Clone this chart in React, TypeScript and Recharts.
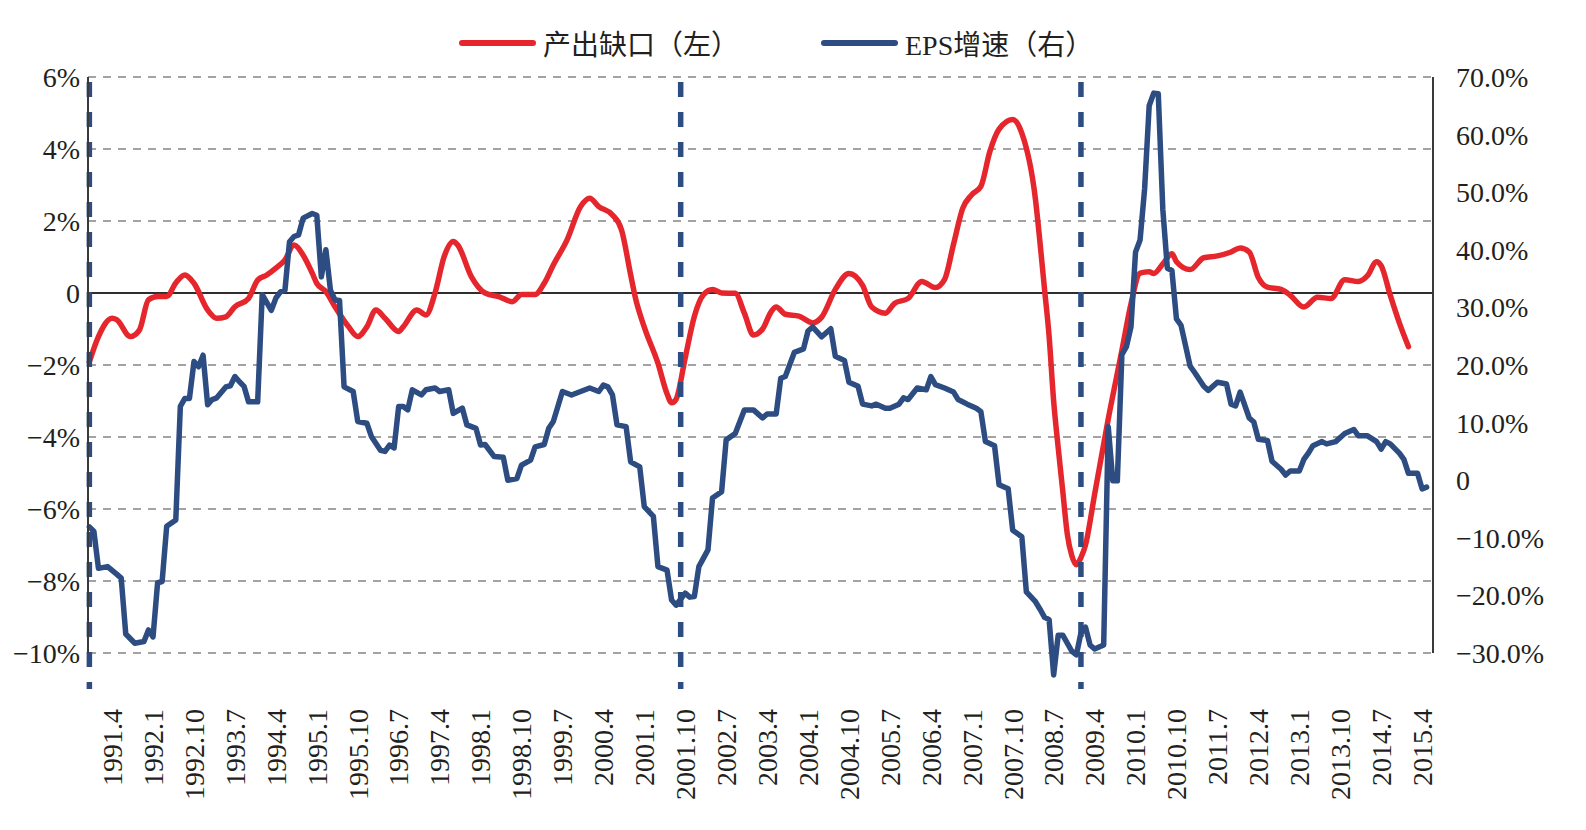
import { LineChart, Line, XAxis, YAxis, CartesianGrid, ReferenceLine } from 'recharts'

// 产出缺口 (left axis, %), monthly readings as [yyyy.m, value]
const OUTPUT_GAP: [string, number][] = [
  ['1990.11', -1.91], ['1991.1', -1.21], ['1991.4', -0.7], ['1991.5', -0.74], ['1991.8', -1.21],
  ['1991.10', -1.03], ['1991.12', -0.19], ['1992.2', -0.1], ['1992.4', -0.1], ['1992.6', 0.28],
  ['1992.8', 0.5], ['1992.10', 0.27], ['1993.1', -0.47], ['1993.3', -0.7], ['1993.5', -0.66],
  ['1993.7', -0.38], ['1993.10', -0.15], ['1993.12', 0.36], ['1994.2', 0.5], ['1994.4', 0.69],
  ['1994.6', 0.92], ['1994.8', 1.33], ['1994.10', 1.05], ['1994.12', 0.55], ['1995.1', 0.27],
  ['1995.3', 0.04], ['1995.5', -0.38], ['1995.8', -0.94], ['1995.10', -1.21], ['1995.12', -0.94],
  ['1996.2', -0.47], ['1996.4', -0.7], ['1996.7', -1.07], ['1996.8', -0.94], ['1996.11', -0.47],
  ['1997.1', -0.61], ['1997.3', 0], ['1997.5', 1.01], ['1997.7', 1.43], ['1997.8', 1.33],
  ['1997.11', 0.45], ['1998.2', 0], ['1998.5', -0.1], ['1998.8', -0.24], ['1998.10', -0.04],
  ['1999.1', -0.04], ['1999.3', 0.27], ['1999.5', 0.78], ['1999.8', 1.47], ['1999.11', 2.4],
  ['2000.1', 2.63], ['2000.3', 2.4], ['2000.6', 2.17], ['2000.8', 1.75], ['2000.10', 0.51],
  ['2000.11', -0.11], ['2001.1', -0.95], ['2001.4', -1.95], ['2001.6', -2.8], ['2001.7', -3.05],
  ['2001.8', -2.95], ['2001.10', -1.8], ['2001.12', -0.65], ['2002.2', -0.05], ['2002.4', 0.1],
  ['2002.6', 0], ['2002.9', -0.01], ['2002.11', -0.56], ['2003.1', -1.17], ['2003.3', -1.0],
  ['2003.5', -0.5], ['2003.6', -0.39], ['2003.8', -0.59], ['2003.11', -0.64], ['2004.2', -0.83],
  ['2004.4', -0.67], ['2004.7', 0.1], ['2004.10', 0.54], ['2005.1', 0.21], ['2005.3', -0.39],
  ['2005.6', -0.56], ['2005.8', -0.29], ['2005.11', -0.15], ['2006.2', 0.32], ['2006.5', 0.15],
  ['2006.7', 0.37], ['2006.9', 1.36], ['2006.11', 2.35], ['2007.1', 2.73], ['2007.3', 2.96],
  ['2007.5', 3.94], ['2007.7', 4.55], ['2007.10', 4.82], ['2007.12', 4.44], ['2008.3', 2.6],
  ['2008.4', 1.4], ['2008.5', 0.1], ['2008.6', -1.2], ['2008.7', -3.0], ['2008.8', -4.3],
  ['2008.9', -5.5], ['2008.10', -6.7], ['2008.11', -7.3], ['2008.12', -7.55], ['2009.1', -7.35],
  ['2009.2', -7.0], ['2009.4', -5.6], ['2009.7', -3.5], ['2009.10', -1.6], ['2009.12', -0.3],
  ['2010.2', 0.55], ['2010.4', 0.59], ['2010.5', 0.54], ['2010.7', 0.81], ['2010.9', 1.09],
  ['2010.10', 0.87], ['2011.1', 0.65], ['2011.4', 0.98], ['2011.7', 1.03], ['2011.10', 1.14],
  ['2011.12', 1.25], ['2012.2', 1.14], ['2012.4', 0.43], ['2012.6', 0.16], ['2012.9', 0.1],
  ['2012.11', -0.06], ['2013.2', -0.39], ['2013.5', -0.12], ['2013.8', -0.15], ['2013.11', 0.37],
  ['2014.2', 0.32], ['2014.4', 0.48], ['2014.6', 0.87], ['2014.7', 0.76], ['2014.9', -0.06],
  ['2014.11', -0.83], ['2015.1', -1.49],
]

// EPS增速 (right axis, %), monthly readings as [yyyy.m, value]
const EPS_GROWTH: [string, number][] = [
  ['1990.11', -8.1], ['1990.12', -8.9], ['1991.1', -15.3], ['1991.3', -15.0], ['1991.5', -16.3],
  ['1991.6', -17.0], ['1991.7', -26.7], ['1991.9', -28.3], ['1991.11', -28.0], ['1991.12', -26.0],
  ['1992.1', -27.2], ['1992.2', -17.8], ['1992.3', -17.6], ['1992.4', -8.0], ['1992.6', -6.9],
  ['1992.7', 12.8], ['1992.8', 14.2], ['1992.9', 14.2], ['1992.10', 20.6], ['1992.11', 19.7],
  ['1992.12', 21.7], ['1993.1', 13.1], ['1993.2', 14.0], ['1993.3', 14.3], ['1993.5', 16.2],
  ['1993.6', 16.4], ['1993.7', 18.0], ['1993.8', 17.1], ['1993.9', 16.3], ['1993.10', 13.6],
  ['1993.12', 13.6], ['1994.1', 32.2], ['1994.3', 29.5], ['1994.4', 31.6], ['1994.5', 32.7],
  ['1994.6', 33.0], ['1994.7', 41.4], ['1994.8', 42.3], ['1994.9', 42.6], ['1994.10', 45.5],
  ['1994.12', 46.3], ['1995.1', 46.0], ['1995.2', 35.3], ['1995.3', 40.0], ['1995.4', 33.0],
  ['1995.5', 31.3], ['1995.6', 31.2], ['1995.7', 16.2], ['1995.9', 15.4], ['1995.10', 10.2],
  ['1995.12', 9.9], ['1996.1', 7.6], ['1996.3', 5.2], ['1996.4', 5.0], ['1996.5', 6.1],
  ['1996.6', 5.6], ['1996.7', 12.8], ['1996.8', 12.8], ['1996.9', 12.2], ['1996.10', 15.7],
  ['1996.12', 14.8], ['1997.1', 15.7], ['1997.3', 16.0], ['1997.4', 15.4], ['1997.6', 15.7],
  ['1997.7', 11.6], ['1997.9', 12.5], ['1997.10', 9.6], ['1997.12', 9.0], ['1998.1', 6.1],
  ['1998.2', 6.2], ['1998.4', 4.1], ['1998.6', 4.0], ['1998.7', 0.0], ['1998.9', 0.3],
  ['1998.10', 2.6], ['1998.12', 3.5], ['1999.1', 5.8], ['1999.3', 6.2], ['1999.4', 9.0],
  ['1999.5', 10.2], ['1999.7', 15.4], ['1999.9', 14.8], ['1999.11', 15.4], ['2000.1', 16.0],
  ['2000.3', 15.4], ['2000.4', 16.5], ['2000.5', 16.2], ['2000.6', 14.8], ['2000.7', 9.6],
  ['2000.9', 9.3], ['2000.10', 3.2], ['2000.12', 2.3], ['2001.1', -4.6], ['2001.3', -6.3],
  ['2001.4', -15.0], ['2001.6', -15.6], ['2001.7', -20.8], ['2001.8', -21.7], ['2001.10', -19.6],
  ['2001.11', -20.3], ['2001.12', -20.2], ['2002.1', -15.0], ['2002.3', -12.1], ['2002.4', -3.1],
  ['2002.6', -2.0], ['2002.7', 7.0], ['2002.9', 8.1], ['2002.11', 12.2], ['2003.1', 12.2],
  ['2003.3', 10.8], ['2003.4', 11.5], ['2003.6', 11.5], ['2003.7', 17.7], ['2003.8', 18.0],
  ['2003.10', 22.2], ['2003.12', 22.8], ['2004.1', 25.9], ['2004.2', 26.6], ['2004.4', 24.9],
  ['2004.6', 26.3], ['2004.7', 21.5], ['2004.9', 20.8], ['2004.10', 17.0], ['2004.12', 16.3],
  ['2005.1', 13.2], ['2005.3', 12.9], ['2005.4', 13.2], ['2005.6', 12.5], ['2005.7', 12.5],
  ['2005.9', 13.2], ['2005.10', 14.3], ['2005.11', 14.0], ['2006.1', 16.0], ['2006.3', 15.7],
  ['2006.4', 18.0], ['2006.5', 16.6], ['2006.7', 16.0], ['2006.9', 15.3], ['2006.10', 14.0],
  ['2006.12', 13.2], ['2007.2', 12.5], ['2007.3', 11.9], ['2007.4', 6.7], ['2007.6', 6.0],
  ['2007.7', -0.8], ['2007.9', -1.5], ['2007.10', -8.7], ['2007.12', -9.8], ['2008.1', -19.4],
  ['2008.3', -21.1], ['2008.4', -22.4], ['2008.5', -23.8], ['2008.6', -24.2], ['2008.7', -33.8],
  ['2008.8', -26.9], ['2008.9', -26.9], ['2008.11', -29.7], ['2008.12', -30.3], ['2009.1', -26.5],
  ['2009.2', -25.5], ['2009.3', -28.6], ['2009.4', -29.3], ['2009.6', -28.6], ['2009.7', 9.3],
  ['2009.8', -0.1], ['2009.9', -0.1], ['2009.10', 21.8], ['2009.11', 23.2], ['2009.12', 26.6],
  ['2010.1', 39.6], ['2010.2', 41.7], ['2010.3', 50.6], ['2010.4', 65.0], ['2010.5', 67.2],
  ['2010.6', 67.1], ['2010.7', 47.0], ['2010.8', 36.8], ['2010.9', 36.4], ['2010.10', 28.0],
  ['2010.11', 26.9], ['2011.1', 19.8], ['2011.2', 18.7], ['2011.4', 16.3], ['2011.5', 15.6],
  ['2011.7', 17.0], ['2011.9', 16.7], ['2011.10', 13.2], ['2011.11', 12.9], ['2011.12', 15.3],
  ['2012.2', 10.8], ['2012.3', 10.1], ['2012.4', 7.1], ['2012.6', 6.9], ['2012.7', 3.3],
  ['2012.9', 1.9], ['2012.10', 0.9], ['2012.11', 1.6], ['2013.1', 1.6], ['2013.2', 3.6],
  ['2013.3', 4.7], ['2013.4', 6.0], ['2013.6', 6.7], ['2013.7', 6.3], ['2013.9', 6.7],
  ['2013.11', 8.1], ['2014.1', 8.8], ['2014.2', 7.7], ['2014.4', 7.7], ['2014.6', 6.7],
  ['2014.7', 5.4], ['2014.8', 6.7], ['2014.9', 6.3], ['2014.11', 4.7], ['2014.12', 3.6],
  ['2015.1', 1.2], ['2015.3', 1.2], ['2015.4', -1.5], ['2015.5', -1.2],
]

// turning points marked with vertical dashed lines
const CYCLE_MARKS = ['1990.11', '2001.9', '2009.1']

const X_TICKS = [
  '1991.4', '1992.1', '1992.10', '1993.7', '1994.4', '1995.1', '1995.10', '1996.7', '1997.4',
  '1998.1', '1998.10', '1999.7', '2000.4', '2001.1', '2001.10', '2002.7', '2003.4', '2004.1',
  '2004.10', '2005.7', '2006.4', '2007.1', '2007.10', '2008.7', '2009.4', '2010.1', '2010.10',
  '2011.7', '2012.4', '2013.1', '2013.10', '2014.7', '2015.4',
]
const LEFT_TICKS = [-10, -8, -6, -4, -2, 0, 2, 4, 6]
const RIGHT_TICKS = [-30, -20, -10, 0, 10, 20, 30, 40, 50, 60, 70]

const RED = '#e5262d'
const NAVY = '#2c4c82'
const INK = '#231f20'
const SERIF = "'Liberation Serif', 'Times New Roman', serif"
const LEGEND_FONT = "'Liberation Serif', 'Noto Sans CJK SC', serif"

// months counted from 1991.1
function monthIndex(label: string) {
  const [y, m] = label.split('.').map(Number)
  return (y - 1991) * 12 + (m - 1)
}

function monthLabel(idx: number) {
  return `${1991 + Math.floor(idx / 12)}.${(((idx % 12) + 12) % 12) + 1}`
}

const gapData = OUTPUT_GAP.map(([d, v]) => ({ m: monthIndex(d), v }))
const epsData = EPS_GROWTH.map(([d, v]) => ({ m: monthIndex(d), v }))

const minus = (s: string) => s.replace('-', '−')
const leftFmt = (v: number) => (v === 0 ? '0' : minus(`${v}%`))
const rightFmt = (v: number) => (v === 0 ? '0' : minus(`${v.toFixed(1)}%`))

function MonthTick({ x, y, payload }: { x?: number; y?: number; payload?: { value: number } }) {
  const ty = (y ?? 0) + 56
  return (
    <text
      x={x}
      y={ty}
      dy="0.35em"
      transform={`rotate(-90 ${x} ${ty})`}
      textAnchor="end"
      fontSize={28}
      fontFamily={SERIF}
      fill={INK}
    >
      {monthLabel(payload?.value ?? 0)}
    </text>
  )
}

function LegendItem({ left, color, text }: { left: number; color: string; text: string }) {
  return (
    <div style={{ position: 'absolute', left, top: 15, height: 40, display: 'flex', alignItems: 'center' }}>
      <div style={{ width: 77, height: 6, borderRadius: 3, background: color, marginRight: 7 }} />
      <span style={{ fontSize: 28, fontFamily: LEGEND_FONT, color: INK, whiteSpace: 'nowrap' }}>{text}</span>
    </div>
  )
}

const axisTick = { fontSize: 28, fontFamily: SERIF, fill: INK }

export default function App() {
  return (
    <div style={{ position: 'relative', width: 1570, height: 814, background: '#fff', fontFamily: SERIF }}>
      <style>
        {'.recharts-line, .recharts-line * { clip-path: none; } .recharts-cartesian-axis-tick text { font-family: ' +
          SERIF +
          '; }'}
      </style>
      <LineChart width={1570} height={814} margin={{ top: 69, right: 0, bottom: 0, left: 0 }}>
        <CartesianGrid
          yAxisId="left"
          xAxisId="x"
          vertical={false}
          stroke="#858585"
          strokeWidth={1.5}
          strokeDasharray="8 7"
        />
        <XAxis
          xAxisId="x"
          dataKey="m"
          type="number"
          domain={[-2.3, 293.4]}
          ticks={X_TICKS.map(monthIndex)}
          interval={0}
          tick={<MonthTick />}
          tickSize={0}
          tickMargin={0}
          axisLine={false}
          tickLine={false}
          height={169}
          allowDataOverflow
        />
        <YAxis
          yAxisId="left"
          orientation="left"
          width={80}
          domain={[-10, 6]}
          ticks={LEFT_TICKS}
          interval={0}
          tickFormatter={leftFmt}
          tick={axisTick}
          tickLine={false}
          tickSize={8}
          tickMargin={0}
          axisLine={{ stroke: '#3a3a3a', strokeWidth: 2 }}
          allowDataOverflow
        />
        <YAxis
          yAxisId="right"
          orientation="right"
          width={145}
          domain={[-30, 70]}
          ticks={RIGHT_TICKS}
          interval={0}
          tickFormatter={rightFmt}
          tick={axisTick}
          tickLine={false}
          tickSize={23}
          tickMargin={0}
          axisLine={{ stroke: '#3a3a3a', strokeWidth: 2 }}
          allowDataOverflow
        />
        <ReferenceLine yAxisId="left" xAxisId="x" y={0} stroke="#2e2e2e" strokeWidth={2} />
        <Line
          xAxisId="x"
          yAxisId="left"
          data={gapData}
          dataKey="v"
          name="产出缺口（左）"
          type="monotone"
          stroke={RED}
          strokeWidth={5.5}
          strokeLinejoin="round"
          strokeLinecap="round"
          dot={false}
          activeDot={false}
          isAnimationActive={false}
        />
        <Line
          xAxisId="x"
          yAxisId="right"
          data={epsData}
          dataKey="v"
          name="EPS增速（右）"
          type="linear"
          stroke={NAVY}
          strokeWidth={5.5}
          strokeLinejoin="round"
          strokeLinecap="round"
          dot={false}
          activeDot={false}
          isAnimationActive={false}
        />
        {CYCLE_MARKS.map((d) => (
          <ReferenceLine
            key={d}
            xAxisId="x"
            yAxisId="left"
            segment={[
              { x: monthIndex(d), y: 6 },
              { x: monthIndex(d), y: -11 },
            ]}
            ifOverflow="visible"
            stroke={NAVY}
            strokeWidth={5.5}
            strokeDasharray="15 15"
            strokeDashoffset={-5}
          />
        ))}
      </LineChart>
      <LegendItem left={451} color={RED} text="产出缺口（左）" />
      <LegendItem left={813} color={NAVY} text="EPS增速（右）" />
    </div>
  )
}
